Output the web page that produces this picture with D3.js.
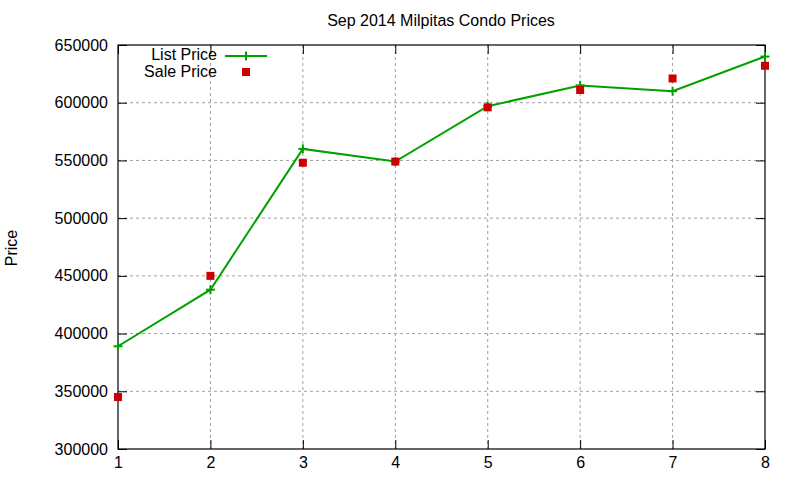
<!DOCTYPE html>
<html>
<head>
<meta charset="utf-8">
<script src="https://cdn.jsdelivr.net/npm/d3@7"></script>
<style>
  body { margin: 0; background: white; }
  text { font-family: "Liberation Sans", Arial, sans-serif; fill: black; }
</style>
</head>
<body>
<div id="container"></div>
<script>
let w = 800;
let h = 480;

// data
let months = [1, 2, 3, 4, 5, 6, 7, 8];
let listPrice = [389000, 438000, 560000, 549000, 597000, 615000, 610000, 640000];
let salePrice = [345000, 450000, 548000, 549000, 596000, 611000, 621000, 632000];
let yTicks = [300000, 350000, 400000, 450000, 500000, 550000, 600000, 650000];

let plotLeft = 118, plotRight = 765, plotTop = 45, plotBottom = 449;
let fontSize = "16px";

let viz = d3.select("#container").append("svg")
    .attr("width", w)
    .attr("height", h)
    .style("background-color", "white");

let xScale = d3.scaleLinear().domain([1, 8]).range([plotLeft, plotRight]);
let yScale = d3.scaleLinear().domain([300000, 650000]).range([plotBottom, plotTop]);

// grid
viz.append("g").selectAll("line").data(months.slice(1, -1)).enter().append("line")
    .attr("x1", d => xScale(d)).attr("x2", d => xScale(d))
    .attr("y1", plotTop).attr("y2", plotBottom)
    .attr("stroke", "#a0a0a0").attr("stroke-dasharray", "3,3");
viz.append("g").selectAll("line").data(yTicks.slice(1, -1)).enter().append("line")
    .attr("x1", plotLeft).attr("x2", plotRight)
    .attr("y1", d => yScale(d)).attr("y2", d => yScale(d))
    .attr("stroke", "#a0a0a0").attr("stroke-dasharray", "3,3");

// axes (ticks inward, mirrored)
let xAxis = d3.axisBottom(xScale).tickValues(months).tickFormat(d3.format("d"))
    .tickSizeInner(-9).tickSizeOuter(0).tickPadding(8);
let xAxisGroup = viz.append("g").attr("transform", "translate(0," + plotBottom + ")").call(xAxis);
let xTop = viz.append("g").attr("transform", "translate(0," + plotTop + ")")
    .call(d3.axisTop(xScale).tickValues(months).tickSizeInner(-9).tickSizeOuter(0).tickFormat(""));
let yAxis = d3.axisLeft(yScale).tickValues(yTicks).tickFormat(d3.format("d"))
    .tickSizeInner(-9).tickSizeOuter(0).tickPadding(10);
let yAxisGroup = viz.append("g").attr("transform", "translate(" + plotLeft + ",0)").call(yAxis);
let yRight = viz.append("g").attr("transform", "translate(" + plotRight + ",0)")
    .call(d3.axisRight(yScale).tickValues(yTicks).tickSizeInner(-9).tickSizeOuter(0).tickFormat(""));

[xAxisGroup, xTop, yAxisGroup, yRight].forEach(g => {
    g.select(".domain").remove();
    g.selectAll("line").attr("stroke", "black");
    g.selectAll("text").style("font-size", fontSize).style("font-family", "Liberation Sans, Arial, sans-serif");
});

// border
viz.append("rect").attr("x", plotLeft).attr("y", plotTop)
    .attr("width", plotRight - plotLeft).attr("height", plotBottom - plotTop)
    .attr("fill", "none").attr("stroke", "black").attr("stroke-width", 1.2);

// list price line
let line = d3.line().x((d, i) => xScale(months[i])).y(d => yScale(d));
viz.append("path").datum(listPrice).attr("d", line)
    .attr("fill", "none").attr("stroke", "#00a000").attr("stroke-width", 2);

function plus(g, x, y) {
    g.append("line").attr("x1", x - 4.5).attr("x2", x + 4.5).attr("y1", y).attr("y2", y)
        .attr("stroke", "#00a000").attr("stroke-width", 2);
    g.append("line").attr("x1", x).attr("x2", x).attr("y1", y - 4.5).attr("y2", y + 4.5)
        .attr("stroke", "#00a000").attr("stroke-width", 2);
}
let plusGroup = viz.append("g");
listPrice.forEach((d, i) => plus(plusGroup, xScale(months[i]), yScale(d)));

// sale price squares
viz.append("g").selectAll("rect").data(salePrice).enter().append("rect")
    .attr("x", (d, i) => xScale(months[i]) - 4)
    .attr("y", d => yScale(d) - 4)
    .attr("width", 8).attr("height", 8)
    .attr("fill", "#cc0000");

// title
viz.append("text").attr("x", 441).attr("y", 26).attr("text-anchor", "middle")
    .style("font-size", fontSize).text("Sep 2014 Milpitas Condo Prices");

// y label
viz.append("text").attr("transform", "translate(17,248) rotate(-90)")
    .attr("text-anchor", "middle").style("font-size", fontSize).text("Price");

// legend
let legend = viz.append("g");
legend.append("text").attr("x", 217).attr("y", 60).attr("text-anchor", "end")
    .style("font-size", fontSize).text("List Price");
legend.append("line").attr("x1", 225).attr("x2", 267).attr("y1", 56).attr("y2", 56)
    .attr("stroke", "#00a000").attr("stroke-width", 2);
plus(legend, 246, 56);
legend.append("text").attr("x", 217).attr("y", 77).attr("text-anchor", "end")
    .style("font-size", fontSize).text("Sale Price");
legend.append("rect").attr("x", 242).attr("y", 68).attr("width", 8).attr("height", 8)
    .attr("fill", "#cc0000");
</script>
</body>
</html>
